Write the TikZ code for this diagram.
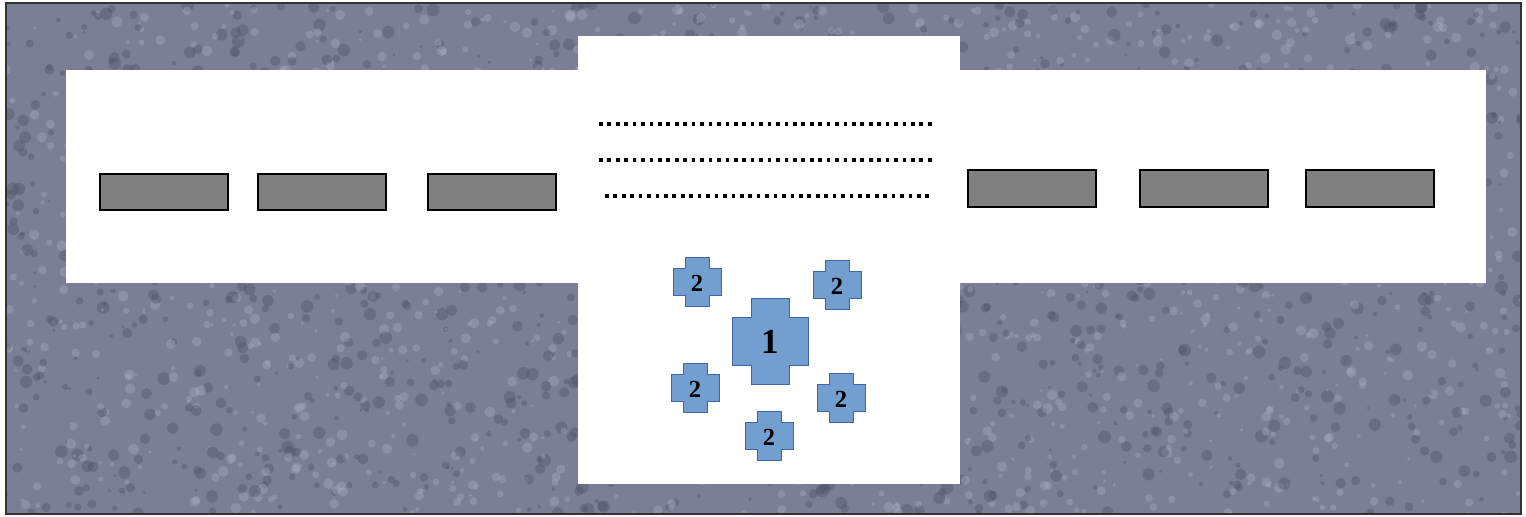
\documentclass[tikz,border=0pt]{standalone}
\usepackage{fontspec}
\setmainfont{Liberation Serif}
\definecolor{rock}{RGB}{122,126,150}
\definecolor{rocklight}{RGB}{176,180,198}
\definecolor{rockdark}{RGB}{74,78,100}
\definecolor{crossblue}{RGB}{114,159,207}
\definecolor{crossedge}{RGB}{62,102,168}
\tikzset{
  slab/.style={fill=black!50, draw=black, line width=0.6pt},
  crossfill/.style={fill=crossblue, draw=crossedge, line width=0.5pt},
  crosslabel/.style={font=\bfseries\fontsize{14}{14}\selectfont, inner sep=0pt},
  dotrow/.style={line width=2.1pt, dash pattern=on 2.1pt off 2.7pt}
}
\begin{document}
\begin{tikzpicture}[x=0.02cm, y=-0.02cm]
\useasboundingbox (0,0) rectangle (1526,517);
% rock ground
\fill[rock] (6,3) rectangle (1521,514);
\begin{scope}
\clip (6,3) rectangle (1521,514);
\pgfmathsetseed{7}
\foreach \i in {1,...,1400} {
  \pgfmathsetmacro{\rx}{6+1515*rnd}
  \pgfmathsetmacro{\ry}{3+511*rnd}
  \pgfmathsetmacro{\rr}{1.5+4*rnd}
  \fill[rocklight, opacity=0.35] (\rx,\ry) circle (\rr);
  \pgfmathsetmacro{\sx}{6+1515*rnd}
  \pgfmathsetmacro{\sy}{3+511*rnd}
  \pgfmathsetmacro{\sr}{1.5+5*rnd}
  \fill[rockdark, opacity=0.35] (\sx,\sy) circle (\sr);
}
\end{scope}
\draw[black!80, line width=0.9pt] (6,3) rectangle (1521,514);
% white cross
\fill[white] (66,70) rectangle (1486,283);
\fill[white] (578,36) rectangle (960,484);
% slabs
\draw[slab] (100,174) rectangle (228,210);
\draw[slab] (258,174) rectangle (386,210);
\draw[slab] (428,174) rectangle (556,210);
\draw[slab] (968,170) rectangle (1096,207);
\draw[slab] (1140,170) rectangle (1268,207);
\draw[slab] (1306,170) rectangle (1434,207);
% dotted rows
\draw[dotrow] (599,124) -- (935,124);
\draw[dotrow] (599,160) -- (935,160);
\draw[dotrow] (605,196) -- (931,196);
% big cross
\draw[crossfill] (751,298) -- (789,298) -- (789,317) -- (808,317) -- (808,365)
  -- (789,365) -- (789,384) -- (751,384) -- (751,365) -- (732,365)
  -- (732,317) -- (751,317) -- cycle;
\node[crosslabel, font=\bfseries\fontsize{20}{20}\selectfont] (main) at (770,342) {1};
% small crosses
\foreach \cx/\cy [count=\i] in {697/282, 837/285, 695/388, 841/398, 769/436} {
  \draw[crossfill, shift={(\cx,\cy)}] (-12,-24.5) -- (12,-24.5) -- (12,-13.5)
    -- (24,-13.5) -- (24,13.5) -- (12,13.5) -- (12,24.5) -- (-12,24.5)
    -- (-12,13.5) -- (-24,13.5) -- (-24,-13.5) -- (-12,-13.5) -- cycle;
  \node[crosslabel] (side\i) at (\cx,\cy+1) {2};
}
\end{tikzpicture}
\end{document}
